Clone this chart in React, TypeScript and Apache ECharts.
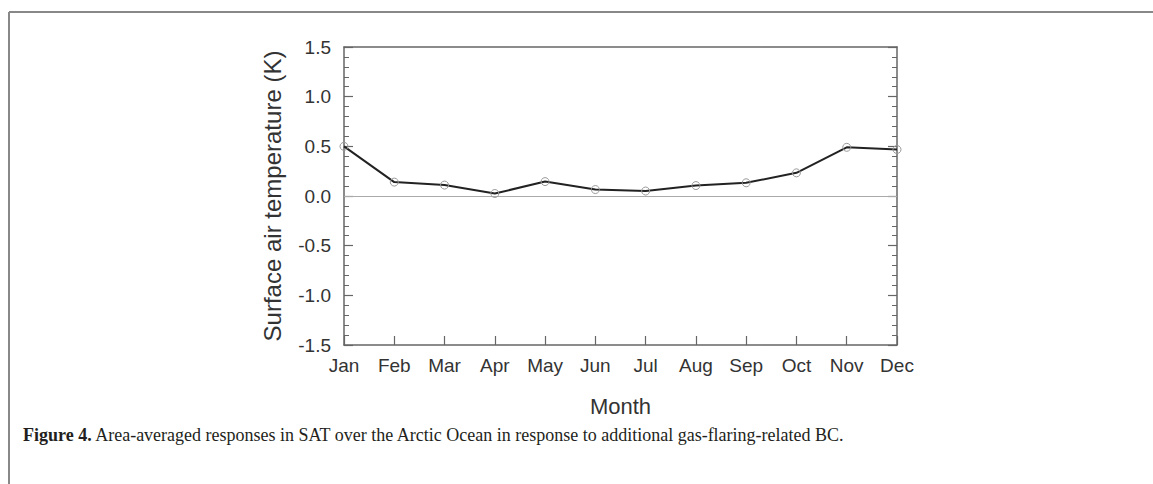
import React, { useEffect, useRef } from "react";
import * as echarts from "echarts";

const months = ["Jan", "Feb", "Mar", "Apr", "May", "Jun", "Jul", "Aug", "Sep", "Oct", "Nov", "Dec"];
const satResponse = [0.5, 0.14, 0.11, 0.025, 0.145, 0.065, 0.05, 0.105, 0.133, 0.233, 0.49, 0.468];
const yMin = -1.5;
const yMax = 1.5;
const yInterval = 0.5;
const yTitle = "Surface air temperature (K)";
const xTitle = "Month";
const captionBold = "Figure 4.";
const captionText = " Area-averaged responses in SAT over the Arctic Ocean in response to additional gas-flaring-related BC.";

const sans = "'Liberation Sans', Arial, Helvetica, sans-serif";
const serif = "'Liberation Serif', 'Times New Roman', serif";

export default function App() {
  const ref = useRef<HTMLDivElement>(null);
  useEffect(() => {
    if (!ref.current) return;
    const chart = echarts.init(ref.current, undefined, { renderer: "svg" });
    const axisColor = "#666";
    const labelColor = "#333";
    const lineCommon = {
      axisLine: { show: true, onZero: false, lineStyle: { color: axisColor, width: 1.5 } },
      splitLine: { show: false },
    };
    chart.setOption({
      animation: false,
      backgroundColor: "#fff",
      grid: { left: 344, top: 47, width: 553, height: 298, containLabel: false },
      xAxis: [
        {
          type: "category",
          data: months,
          boundaryGap: false,
          position: "bottom",
          ...lineCommon,
          axisTick: { show: true, inside: true, length: 9, alignWithLabel: true, lineStyle: { color: axisColor, width: 1.2 } },
          axisLabel: { show: true, color: labelColor, fontSize: 19, fontFamily: sans, margin: 11 },
          name: xTitle,
          nameLocation: "middle",
          nameGap: 50,
          nameTextStyle: { color: labelColor, fontSize: 22, fontFamily: sans },
        },
        {
          type: "category",
          data: months,
          boundaryGap: false,
          position: "top",
          ...lineCommon,
          axisTick: { show: false },
          axisLabel: { show: false },
        },
      ],
      yAxis: [
        {
          type: "value",
          min: yMin,
          max: yMax,
          interval: yInterval,
          position: "left",
          ...lineCommon,
          axisTick: { show: true, inside: true, length: 9, lineStyle: { color: axisColor, width: 1.2 } },
          minorTick: { show: true, splitNumber: 5, length: 5, lineStyle: { color: axisColor, width: 1 } },
          axisLabel: {
            show: true,
            color: labelColor,
            fontSize: 19,
            fontFamily: sans,
            margin: 13,
            formatter: (v: number) => v.toFixed(1),
          },
          name: yTitle,
          nameLocation: "middle",
          nameGap: 60,
          nameRotate: 90,
          nameTextStyle: { color: labelColor, fontSize: 24, fontFamily: sans },
        },
        {
          type: "value",
          min: yMin,
          max: yMax,
          interval: yInterval,
          position: "right",
          ...lineCommon,
          axisTick: { show: true, inside: true, length: 9, lineStyle: { color: axisColor, width: 1.2 } },
          minorTick: { show: true, splitNumber: 5, length: 5, lineStyle: { color: axisColor, width: 1 } },
          axisLabel: { show: false },
        },
      ],
      series: [
        {
          type: "line",
          data: satResponse,
          xAxisIndex: 0,
          yAxisIndex: 0,
          clip: false,
          symbol: "circle",
          symbolSize: 8,
          itemStyle: { color: "rgba(0,0,0,0)", borderColor: "#999", borderWidth: 1 },
          lineStyle: { color: "#222", width: 2 },
          z: 3,
          markLine: {
            silent: true,
            symbol: "none",
            label: { show: false },
            lineStyle: { color: "#aaa", width: 1, type: "solid" },
            data: [{ yAxis: 0 }],
            z: 1,
          },
        },
      ],
      graphic: [
        { type: "line", shape: { x1: 9, y1: 12, x2: 1153, y2: 12 }, style: { stroke: "#888", lineWidth: 2 } },
        { type: "line", shape: { x1: 9, y1: 12, x2: 9, y2: 484 }, style: { stroke: "#888", lineWidth: 2 } },
        {
          type: "text",
          x: 23,
          y: 435,
          style: {
            text: "{b|" + captionBold + "}" + captionText,
            font: "18px " + serif,
            fill: "#231f20",
            verticalAlign: "middle",
            rich: { b: { fontWeight: "bold", fontSize: 18, fontFamily: serif, fill: "#231f20" } },
          },
        },
      ],
    });
    return () => chart.dispose();
  }, []);
  return <div ref={ref} style={{ position: "fixed", left: 0, top: 0, width: 1153, height: 484 }} />;
}
